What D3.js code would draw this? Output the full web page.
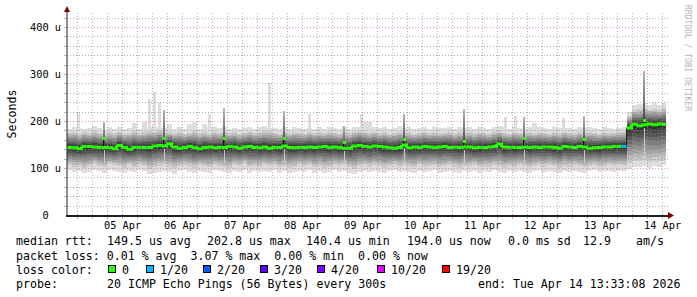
<!DOCTYPE html>
<html><head><meta charset="utf-8">
<script src="https://cdn.jsdelivr.net/npm/d3@7/dist/d3.min.js"></script>
<style>
html,body{margin:0;padding:0;background:#fff;}
svg{display:block;}
text{font-family:"DejaVu Sans Mono",monospace;white-space:pre;}
</style></head><body>
<svg id="chart" width="697" height="297"></svg>
<script>
// ---------------- data ----------------
const endTime = Date.UTC(2026, 3, 14, 13, 33, 8);
const stepHours = 2;                     // one smoke column = 2 hours
// median rtt per column (microseconds)
const median = [
 145,144,142,147,147,146,145,145,144,142,
 149,145,141,145,145,145,145,148,149,148,
 153,146,143,145,147,144,142,145,146,144,
 145,145,147,146,143,146,147,145,144,146,
 143,145,145,148,145,144,145,145,146,145,
 146,147,145,146,145,143,143,148,149,147,
 146,148,147,146,144,143,145,150,144,146,
 145,147,146,145,146,147,145,146,145,146,
 146,144,145,145,146,147,152,146,145,145,
 145,146,145,146,145,146,146,145,143,147,
 146,145,147,146,143,144,145,146,146,147,
 147,147,186,194,191,193,195,193,195,194];
// lowest ping per column
const pingMin = [
 96,92,95,90,93,96,94,91,97,95,
 93,90,94,92,96,95,88,91,93,95,
 92,89,94,96,92,90,95,93,91,96,
 94,92,90,95,93,97,91,94,92,95,
 93,96,91,94,90,92,95,93,96,91,
 94,90,92,96,93,95,91,88,93,95,
 92,95,93,90,94,96,92,95,93,91,
 95,92,94,96,91,93,95,92,90,94,
 93,95,91,94,92,96,93,90,94,92,
 95,93,91,94,96,92,95,93,90,94,
 92,95,93,91,94,96,92,94,95,93,
 95,94,100,104,103,106,102,105,103,107];
// lower edge of the inner smoke (2nd lowest ping)
const pingLow = [
 108,104,106,101,105,109,106,103,109,107,
 105,102,107,104,108,106,100,103,106,108,
 104,101,106,108,104,102,107,105,103,108,
 106,104,102,107,105,109,103,106,104,107,
 105,108,103,106,102,104,107,105,108,103,
 106,102,104,108,105,107,103,100,105,107,
 104,107,105,102,106,108,104,107,105,103,
 107,104,106,108,103,105,107,104,102,106,
 105,107,103,106,104,108,105,102,106,104,
 107,105,103,106,108,104,107,105,102,106,
 104,107,105,103,106,108,104,106,107,105,
 107,106,112,116,115,118,113,117,115,119];
// upper edge of the inner smoke (2nd highest ping)
const pingHigh = [
 176,178,174,177,175,179,176,173,177,175,
 178,174,176,179,175,177,180,178,181,176,
 177,175,178,174,176,179,175,177,174,178,
 176,178,175,177,174,176,178,175,177,179,
 180,176,174,177,175,178,176,174,178,175,
 177,175,178,176,174,177,175,178,180,178,
 176,178,175,177,174,176,178,175,177,174,
 176,178,175,177,175,176,178,174,177,175,
 177,175,178,176,174,177,179,176,174,178,
 176,174,177,175,178,176,174,177,175,178,
 176,174,177,175,178,176,174,177,175,176,
 177,178,212,224,226,229,225,227,224,228];
// highest ping per column
const pingMax = [
 185,188,187,184,187,190,186,183,188,185,
 189,184,186,196,185,198,188,190,186,186,
 195,185,188,184,195,198,185,195,188,188,
 186,189,185,187,184,186,189,185,188,190,
 187,187,184,188,185,189,186,184,186,185,
 188,185,189,187,184,188,185,189,189,200,
 198,189,186,188,185,187,190,186,188,184,
 186,189,185,188,186,187,189,185,188,186,
 188,185,189,187,184,188,190,188,185,190,
 187,184,188,196,189,187,185,188,186,187,
 187,185,188,186,189,187,185,188,186,184,
 186,188,220,236,238,240,236,239,235,240];
// isolated single-ping outliers (time, rtt)
const outlierTimes = ["2026-04-04T18:09Z","2026-04-05T22:33Z","2026-04-06T00:33Z","2026-04-06T02:33Z",
                      "2026-04-06T22:33Z","2026-04-07T22:33Z","2026-04-08T14:33Z","2026-04-09T11:21Z",
                      "2026-04-11T20:57Z","2026-04-12T00:57Z","2026-04-12T20:09Z"];
const outlierRtt = [221,249,262,240,217,281,217,217,209,211,208];
// packet loss samples: [column, lost pings of 20]
const lossSamples = [[111, 1]];
// short daily latency spikes
const spikeDays = ["2026-04-05","2026-04-06","2026-04-07","2026-04-08","2026-04-09",
                   "2026-04-10","2026-04-11","2026-04-12","2026-04-13","2026-04-14"];
const spikeMedian = [164,165,166,164,157,162,158,164,162,204];
const spikeTop    = [200,225,228,223,191,217,227,209,212,308];

const yTicks = [0,100,200,300,400];
const yTickLabels = ["  0  ","100 u","200 u","300 u","400 u"];
const lossLabels = ["0","1/20","2/20","3/20","4/20","10/20","19/20"];
const lossColors = ["#26ff00","#00b8ff","#0059ff","#5e00ff","#7e00ff","#dd00ff","#ff0000"];
const lossLevels = [0,1,2,3,4,10,19];

const legendRow1 = [["median rtt:",16],["149.5 us avg",107],["202.8 us max",207],["140.4 us min",306],
                    ["194.0 us now",407],["0.0 ms sd",508],["12.9",583],["am/s",636]];
const legendRow2 = "packet loss: 0.01 % avg  3.07 % max  0.00 % min  0.00 % now";
const probeText = "20 ICMP Echo Pings (56 Bytes) every 300s";
const endText = "end: Tue Apr 14 13:33:08 2026";

// ---------------- drawing ----------------
const H = 3600e3;
const startTime = endTime - median.length * stepHours * H;
const svg = d3.select("#chart");
const x = d3.scaleUtc().domain([startTime, endTime]).range([66.5, 666.5]);
const y = d3.scaleLinear().domain([0, 430]).range([215.5, 13.5]);
const px = v => Math.floor(v) + 0.5;

const lossMap = new Map(lossSamples);
const cols = median.map((m, i) => ({
  t0: startTime + i * stepHours * H, t1: startTime + (i + 1) * stepHours * H,
  med: m, lo: pingMin[i], lo2: pingLow[i], hi2: pingHigh[i], hi: pingMax[i],
  loss: lossMap.get(i) || 0
}));
const colAt = t => cols.find(c => t >= c.t0 && t < c.t1);
function lossColor(l){ let k = 0; lossLevels.forEach((v, j) => { if (l >= v) k = j; }); return lossColors[k]; }

const defs = svg.append("defs");
defs.append("clipPath").attr("id","plotclip").append("rect")
  .attr("x",67).attr("y",13).attr("width",599).attr("height",202);
const shades = [202,183,164,145,126,107,88,69,50];
function bandGrad(id, reverse){
  const g = defs.append("linearGradient").attr("id", id).attr("x1",0).attr("y1",0).attr("x2",0).attr("y2",1);
  const list = reverse ? shades.slice().reverse() : shades;
  list.forEach((s, k) => {
    const c = d3.rgb(s, s, s).formatHex();
    g.append("stop").attr("offset", k / list.length).attr("stop-color", c);
    g.append("stop").attr("offset", (k + 1) / list.length).attr("stop-color", c);
  });
}
bandGrad("smokeUp", false);
bandGrad("smokeDown", true);
const sg = defs.append("linearGradient").attr("id","spikeGrad").attr("x1",0).attr("y1",0).attr("x2",0).attr("y2",1);
sg.append("stop").attr("offset",0).attr("stop-color","#b8b8b8");
sg.append("stop").attr("offset",1).attr("stop-color","#3c3c3c");

const plot = svg.append("g").attr("clip-path","url(#plotclip)").attr("shape-rendering","crispEdges");
const cx = d => Math.round(x(d.t0)), cw = d => Math.round(x(d.t1)) - Math.round(x(d.t0));
// outliers (lightest smoke band reaching a single high ping)
const outliers = outlierTimes.map((s, k) => { const t = new Date(s).getTime(); return { t, v: outlierRtt[k], c: colAt(t) }; });
plot.selectAll("rect.out").data(outliers).join("rect").attr("class","out")
  .attr("x", d => Math.round(x(d.t)) - 1).attr("width", 3)
  .attr("y", d => y(d.v)).attr("height", d => y(d.c.hi2) - y(d.v)).attr("fill","#dddddd");
plot.selectAll("rect.outer").data(cols).join("rect").attr("class","outer")
  .attr("x", cx).attr("width", cw)
  .attr("y", d => y(d.hi)).attr("height", d => y(d.lo) - y(d.hi)).attr("fill","#dddddd");
plot.selectAll("rect.up").data(cols).join("rect").attr("class","up")
  .attr("x", cx).attr("width", cw)
  .attr("y", d => y(d.hi2)).attr("height", d => y(d.med) - y(d.hi2)).attr("fill","url(#smokeUp)");
plot.selectAll("rect.down").data(cols).join("rect").attr("class","down")
  .attr("x", cx).attr("width", cw)
  .attr("y", d => y(d.med)).attr("height", d => y(d.lo2) - y(d.med)).attr("fill","url(#smokeDown)");

// spikes smoke
const spikes = spikeDays.map((d, k) => {
  const t = new Date(d + "T04:10:00Z").getTime();
  return { t, med: spikeMedian[k], top: spikeTop[k], base: colAt(t).med };
});
plot.selectAll("rect.spk").data(spikes).join("rect").attr("class","spk")
  .attr("x", d => Math.round(x(d.t))).attr("width", 2)
  .attr("y", d => y(d.top)).attr("height", d => y(d.base) - y(d.top)).attr("fill","url(#spikeGrad)");
plot.selectAll("rect.spkl").data(spikes).join("rect").attr("class","spkl")
  .attr("x", d => Math.round(x(d.t)) + 1).attr("width", 1)
  .attr("y", d => y(d.base - 6)).attr("height", d => y(112) - y(d.base - 6)).attr("fill","#c8c8c8");

// grid (on top of smoke)
const grid = svg.append("g").attr("shape-rendering","crispEdges");
const minorC = "rgba(143,143,143,0.7)", majorC = "rgba(222,79,79,0.55)";
const hMinor = d3.range(20, 430, 20).filter(v => v % 100 !== 0);
const hMajor = [100,200,300,400];
grid.selectAll("line.hm").data(hMinor).join("line").attr("x1",67).attr("x2",669)
  .attr("y1", d => px(y(d))).attr("y2", d => px(y(d))).attr("stroke",minorC).attr("stroke-dasharray","1,2");
grid.selectAll("line.hM").data(hMajor).join("line").attr("x1",67).attr("x2",669)
  .attr("y1", d => px(y(d))).attr("y2", d => px(y(d))).attr("stroke",majorC).attr("stroke-dasharray","1,2");
const days = d3.utcDay.range(startTime, endTime);
const sixH = d3.utcHour.every(6).range(startTime, endTime).filter(t => t.getUTCHours() !== 0);
grid.selectAll("line.vm").data(sixH).join("line").attr("y1",13).attr("y2",215)
  .attr("x1", d => px(x(d))).attr("x2", d => px(x(d))).attr("stroke",minorC).attr("stroke-dasharray","1,2");
grid.selectAll("line.vM").data(days).join("line").attr("y1",13).attr("y2",215)
  .attr("x1", d => px(x(d))).attr("x2", d => px(x(d))).attr("stroke",majorC).attr("stroke-dasharray","1,2");
// ticks
grid.selectAll("line.ty").data(hMinor.concat(hMajor)).join("line").attr("x1",64).attr("x2",66)
  .attr("y1", d => px(y(d))).attr("y2", d => px(y(d))).attr("stroke", d => d % 100 ? minorC : majorC);
grid.selectAll("line.tx").data(sixH.concat(days)).join("line").attr("y1",217).attr("y2",219)
  .attr("x1", d => px(x(d))).attr("x2", d => px(x(d))).attr("stroke", d => d.getUTCHours() ? minorC : majorC);

// median: dark step line, then coloured line per column
const medG = svg.append("g").attr("clip-path","url(#plotclip)");
const stepPts = cols.map(d => [d.t0, d.med]).concat([[cols[cols.length-1].t1, cols[cols.length-1].med]]);
medG.append("path").attr("d", d3.line().x(d => x(d[0])).y(d => y(d[1])).curve(d3.curveStepAfter)(stepPts))
  .attr("fill","none").attr("stroke","#202020").attr("stroke-width",1);
spikes.forEach(s => {
  medG.append("line").attr("x1", Math.round(x(s.t)) + 0.5).attr("x2", Math.round(x(s.t)) + 0.5)
    .attr("y1", y(s.base)).attr("y2", y(s.med)).attr("stroke","#101010").attr("stroke-width",1)
    .attr("shape-rendering","crispEdges");
});
medG.selectAll("path.med").data(cols).join("path").attr("class","med")
  .attr("d", (d, i) => {
    const p = d3.path();
    p.moveTo(x(d.t0), y(d.med)); p.lineTo(x(d.t1), y(d.med));
    const n = cols[i + 1];
    if (n && lossColor(n.loss) === lossColor(d.loss)) p.lineTo(x(d.t1), y(n.med));
    return p.toString();
  })
  .attr("fill","none").attr("stroke", d => lossColor(d.loss)).attr("stroke-width",3);
medG.selectAll("rect.spm").data(spikes).join("rect").attr("class","spm")
  .attr("x", d => Math.round(x(d.t))).attr("width",3)
  .attr("y", d => Math.round(y(d.med)) - 1).attr("height",3).attr("fill", lossColors[0])
  .attr("shape-rendering","crispEdges");

// axes
const ax = svg.append("g");
ax.append("line").attr("x1",67).attr("x2",67).attr("y1",216).attr("y2",11).attr("stroke","#202020").attr("stroke-width",1);
ax.append("line").attr("x1",66).attr("x2",670).attr("y1",216).attr("y2",216).attr("stroke","#202020").attr("stroke-width",2)
  .attr("shape-rendering","crispEdges");
ax.append("path").attr("d","M64,12 L70,12 L67,6 Z").attr("fill","#800000");
ax.append("path").attr("d","M668,212 L668,219 L674,215.5 Z").attr("fill","#800000");

// tick labels
svg.selectAll("text.yl").data(yTicks).join("text").attr("class","yl")
  .attr("x", 30).attr("y", d => px(y(d)) + 3.5).attr("font-size", "10.3px").attr("fill","#000")
  .text((d, i) => yTickLabels[i]);
const noons = days.map(d => new Date(d.getTime() + 12 * H)).filter(d => d.getTime() < endTime);
svg.selectAll("text.xl").data(noons).join("text").attr("class","xl")
  .attr("x", d => x(d)).attr("y", 229).attr("text-anchor","middle").attr("font-size","10.3px").attr("fill","#000")
  .text(d => d3.utcFormat("%d %b")(d));

svg.append("text").attr("transform","translate(15.5,114) rotate(-90)").attr("text-anchor","middle")
  .attr("font-size","11.6px").text("Seconds");
svg.append("text").attr("transform","translate(685,5) rotate(90)").attr("font-size","8px")
  .attr("fill","#b4b4b4").text("RRDTOOL / TOBI OETIKER");

// legend
const lg = svg.append("g").attr("font-size","11.6px").attr("fill","#000");
legendRow1.forEach(([s, xx]) => lg.append("text").attr("x", xx).attr("y", 245).text(s));
lg.append("text").attr("x",16).attr("y",259.5).text(legendRow2);
lg.append("text").attr("x",16).attr("y",273.5).text("loss color:");
const boxX = [108,146,203,260,317,377,442];
lossLabels.forEach((l, k) => {
  lg.append("rect").attr("x", boxX[k] + 0.5).attr("y", 265.5).attr("width",7).attr("height",7)
    .attr("fill", lossColors[k]).attr("stroke","#000").attr("stroke-width",1);
  lg.append("text").attr("x", boxX[k] + 14).attr("y", 273.5).text(l);
});
lg.append("text").attr("x",16).attr("y",287.5).text("probe:");
lg.append("text").attr("x",107).attr("y",287.5).text(probeText);
lg.append("text").attr("x",478).attr("y",287.5).text(endText);
</script>
</body></html>
